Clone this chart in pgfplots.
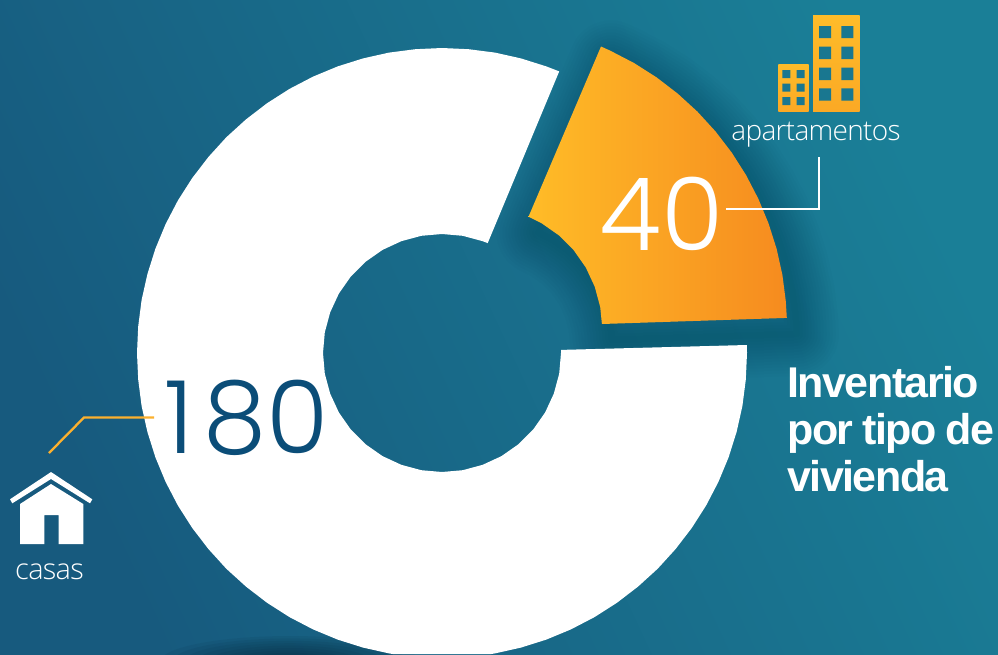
\documentclass[border=0pt]{standalone}
\usepackage{pgfplots}
\usepackage{pgfplotstable}
\usepackage{fontspec}
\pgfplotsset{compat=1.18}
\setmainfont{Liberation Sans}
\newfontfamily\boldf[LetterSpace=-3.5,WordSpace=0.85]{Liberation Sans Bold}
\newfontfamily\bigf{Poppins Light}
\newfontfamily\labf[LetterSpace=-2.5]{Open Sans Light}
\definecolor{bgA}{HTML}{175A7E}
\definecolor{bgB}{HTML}{1A7F97}
\definecolor{oA}{HTML}{FFBC27}
\definecolor{oB}{HTML}{F68B1F}
\definecolor{navy}{HTML}{0B4D78}
\definecolor{gold}{HTML}{FBB02E}
\definecolor{goldA}{HTML}{FEBC29}
\definecolor{goldB}{HTML}{FBA925}
\definecolor{win}{HTML}{197790}
\pgfplotstableread{
x y
786.8 317.9
785.8 301.3
782.4 274.9
776.6 248.8
768.5 223.3
758.3 198.7
746.0 175.0
731.7 152.5
715.4 131.3
697.4 111.6
677.7 93.6
656.5 77.3
634.0 63.0
610.3 50.7
601.0 46.5
528.5 216.7
541.5 223.2
558.8 235.3
573.7 250.2
585.8 267.5
594.7 286.6
600.2 307.0
601.9 324.0
}\orangedata
\pgfplotstableread{
x y
559.2 71.4
546.3 66.4
520.9 58.4
495.0 52.6
468.6 49.2
442.0 48.0
415.4 49.2
389.0 52.6
363.1 58.4
337.7 66.4
313.1 76.6
289.5 88.9
267.1 103.2
246.0 119.4
226.3 137.3
208.4 157.0
192.2 178.1
177.9 200.5
165.6 224.1
155.4 248.7
147.4 274.1
141.6 300.0
138.2 326.4
137.0 353.0
138.2 379.6
141.6 406.0
147.4 431.9
155.4 457.3
165.6 481.9
177.9 505.5
192.2 527.9
208.4 549.0
226.3 568.7
246.0 586.6
267.1 602.8
289.5 617.1
313.1 629.4
337.7 639.6
363.1 647.6
389.0 653.4
392.8 654.0
491.2 654.0
495.0 653.4
520.9 647.6
546.3 639.6
570.9 629.4
594.5 617.1
616.9 602.8
638.0 586.6
657.7 568.7
675.6 549.0
691.8 527.9
706.1 505.5
718.4 481.9
728.6 457.3
736.6 431.9
742.4 406.0
745.8 379.6
747.0 353.0
746.9 345.0
561.0 349.9
561.0 353.0
559.2 373.7
553.8 393.7
545.1 412.5
533.2 429.5
518.5 444.2
501.5 456.1
482.7 464.8
462.7 470.2
442.0 472.0
421.3 470.2
401.3 464.8
382.5 456.1
365.5 444.2
350.8 429.5
338.9 412.5
330.2 393.7
324.8 373.7
323.0 353.0
324.8 332.3
330.2 312.3
338.9 293.5
350.8 276.5
365.5 261.8
382.5 249.9
401.3 241.2
421.3 235.8
442.0 234.0
462.7 235.8
482.7 241.2
487.7 243.1
}\whitedata
\begin{document}
\begin{tikzpicture}
\begin{axis}[
  scale only axis, width=998pt, height=654pt,
  xmin=0, xmax=998, ymin=0, ymax=654, y dir=reverse,
  hide axis, clip=true, no markers,
  every axis plot/.append style={forget plot}]
% background
\addplot[draw=none, left color=bgA, right color=bgB, shading angle=115] coordinates {(0,0) (998,0) (998,654) (0,654)} -- cycle;
% soft dark patch at the foot
\pgfplotsinvokeforeach{130,118,106,94,82,70,58,46,34,22}{
  \fill[overlay, black!60!navy, opacity=.075] (axis cs:290,662) ellipse [x radius=#1, y radius=0.2*#1];
}
% shadow of the orange sector
\pgfplotsinvokeforeach{84,78,72,66,60,54,48,42,36,30,24,18,12,6}{
  \addplot[draw=black!55!navy, line width=#1 pt, line join=round, opacity=.014]
    table[x expr=\thisrow{x}+10, y expr=\thisrow{y}+16] {\orangedata} -- cycle;
}
% sectors
\addplot[fill=white, draw=none] table {\whitedata};
\addplot[draw=none, left color=oA, right color=oB] table {\orangedata} -- cycle;
% leaders
\addplot[white, line width=2pt, line join=miter] coordinates {(726,209) (819,209) (819,157)};
\addplot[gold, line width=2.3pt, line join=miter] coordinates {(49,453) (84,417.5) (154,417.5)};
% buildings
\addplot[draw=none, top color=goldA, bottom color=goldB] coordinates {(813,15) (859.5,15) (859.5,111) (813,111)} -- cycle;
\addplot[draw=none, top color=goldA, bottom color=goldB] coordinates {(778.3,64) (808.7,64) (808.7,111) (778.3,111)} -- cycle;
\fill[win] (axis cs:819,26) rectangle (axis cs:831,38)
 (axis cs:819,46.7) rectangle (axis cs:831,59)
 (axis cs:819,67.7) rectangle (axis cs:831,80)
 (axis cs:819,88.3) rectangle (axis cs:831,100.7)
 (axis cs:841.3,26) rectangle (axis cs:853.3,38)
 (axis cs:841.3,46.7) rectangle (axis cs:853.3,59)
 (axis cs:841.3,67.7) rectangle (axis cs:853.3,80)
 (axis cs:841.3,88.3) rectangle (axis cs:853.3,100.7)
 (axis cs:782.3,70) rectangle (axis cs:790.3,78)
 (axis cs:782.3,83.7) rectangle (axis cs:790.3,91.7)
 (axis cs:782.3,97) rectangle (axis cs:790.3,105)
 (axis cs:796.7,70) rectangle (axis cs:804.7,78)
 (axis cs:796.7,83.7) rectangle (axis cs:804.7,91.7)
 (axis cs:796.7,97) rectangle (axis cs:804.7,105);
% house
\addplot[draw=none, fill=white] coordinates {(51,472) (92.3,499.3) (90,503.3) (51,479) (12.3,503.3) (10,499.3)} -- cycle;
\addplot[draw=none, fill=white] coordinates {(51,484) (83.3,504) (83.3,544) (58.7,544) (58.7,515) (44.3,515) (44.3,544) (20,544) (20,504)} -- cycle;
% texts
\node[anchor=base west, inner sep=0pt, text=navy] at (axis cs:164,453) {\bigf\fontsize{101}{101}\selectfont 1\kern10pt 80};
\node[anchor=base west, inner sep=0pt, text=white] at (axis cs:599,250) {\bigf\fontsize{101}{101}\selectfont 40};
\node[anchor=base, inner sep=0pt, text=white] at (axis cs:816,140.5) {\labf\fontsize{28}{28}\selectfont apartamentos};
\node[anchor=base, inner sep=0pt, text=white] at (axis cs:49.5,579) {\labf\fontsize{29}{29}\selectfont casas};
\node[anchor=base west, inner sep=0pt, text=white] at (axis cs:787,397) {\boldf\fontsize{43}{43}\selectfont Inventario};
\node[anchor=base west, inner sep=0pt, text=white] at (axis cs:787,444) {\boldf\fontsize{43}{43}\selectfont por tipo de};
\node[anchor=base west, inner sep=0pt, text=white] at (axis cs:787,491) {\boldf\fontsize{43}{43}\selectfont vivienda};
\end{axis}
\end{tikzpicture}
\end{document}
